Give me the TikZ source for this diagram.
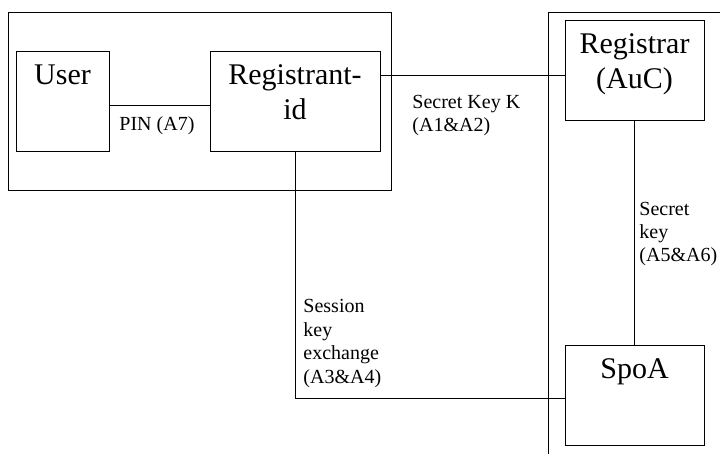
\documentclass[tikz,border=0pt]{standalone}
\usepackage{fontspec}
\setmainfont{Liberation Serif}
\begin{document}
\begin{tikzpicture}[x=1pt,y=-1pt,
  line width=0.9pt,
  box/.style={draw, rectangle, inner sep=0pt},
  bigtxt/.style={inner sep=0pt, anchor=base, align=center, font=\fontsize{30}{35.5}\selectfont},
  smalltxt/.style={inner sep=0pt, anchor=base west, align=left, font=\fontsize{20}{23.5}\selectfont},
  conn/.style={draw}
]
\useasboundingbox (0,0) rectangle (720,454);
% enclosing frames
\draw (8,12) rectangle (391,190);
\draw (720,12) -- (548,12) -- (548,454);
% boxes
\node[box, minimum width=93pt, minimum height=100pt] (user) at (62.5,101) {};
\node[box, minimum width=170pt, minimum height=100pt] (rid) at (295,101) {};
\node[box, minimum width=139pt, minimum height=100pt] (auc) at (634.5,70) {};
\node[box, minimum width=139pt, minimum height=100pt] (spoa) at (634.5,395) {};
% box texts (anchor = baseline of last line)
\node[bigtxt] (usertxt) at ([yshift=-34pt]user.north) {User};
\node[bigtxt] (ridtxt) at ([yshift=-69pt]rid.north) {Registrant-\\id};
\node[bigtxt] (auctxt) at ([yshift=-69pt]auc.north) {Registrar\\(AuC)};
\node[bigtxt] (spoatxt) at ([yshift=-33.5pt]spoa.north) {SpoA};
% connectors
\draw[conn] ([yshift=-4pt]user.east) -- ([yshift=-4pt]rid.west);
\draw[conn] ([yshift=26pt]rid.east) -- ([yshift=26pt]rid.east -| auc.west);
\draw[conn] (auc.south) -- (spoa.north);
\draw[conn] (rid.south) |- ([yshift=-3pt]spoa.west);
% connector labels (anchor = baseline of last line)
\node[smalltxt] (pinlbl) at (119,131) {PIN (A7)};
\node[smalltxt] (sklbl) at (412,132) {Secret Key K\\(A1\&A2)};
\node[smalltxt] (sk2lbl) at (639,262) {Secret\\key\\(A5\&A6)};
\node[smalltxt] (seslbl) at (303,383) {Session\\key\\exchange\\(A3\&A4)};
\end{tikzpicture}
\end{document}
